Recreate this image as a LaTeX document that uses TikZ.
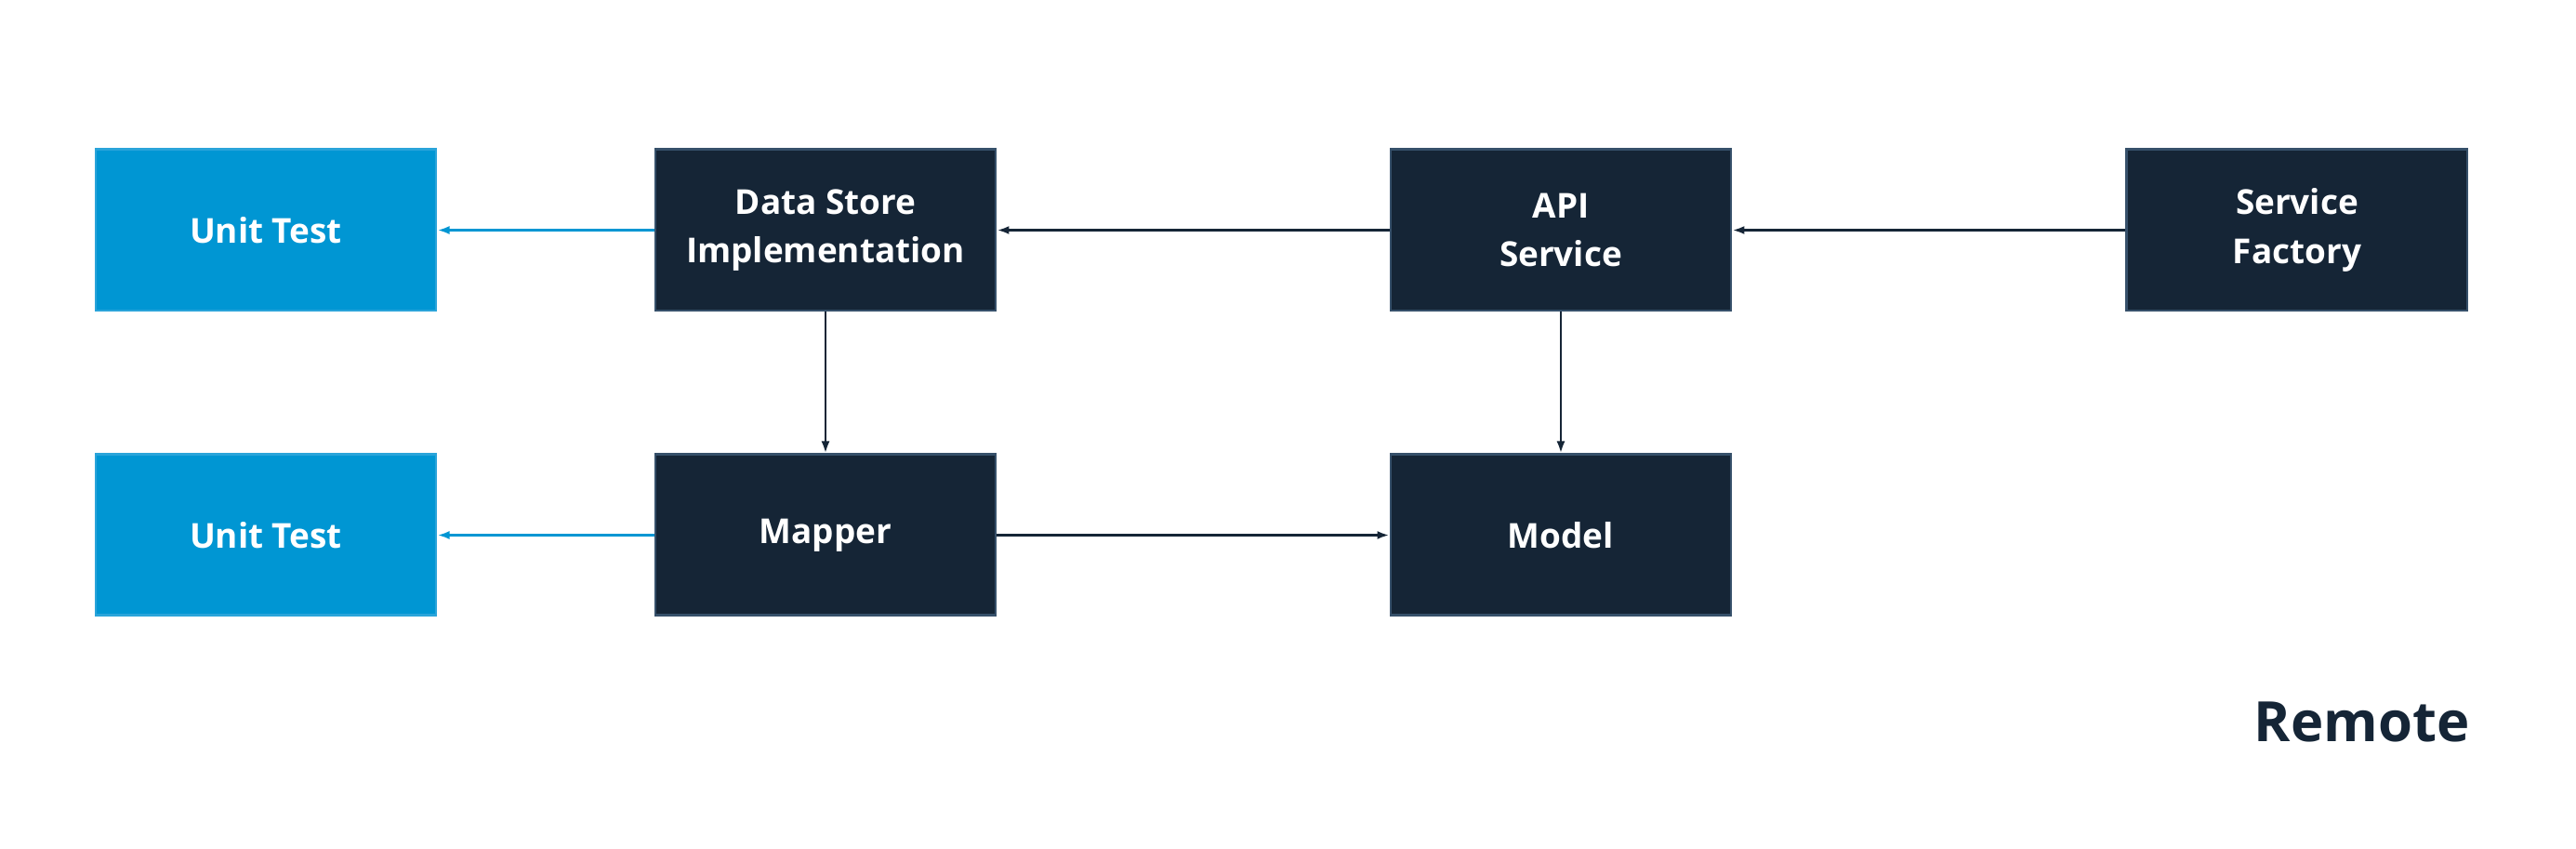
\documentclass[tikz,border=0pt]{standalone}
\usepackage{fontspec}
\setmainfont{Open Sans}
\usetikzlibrary{positioning,arrows.meta}
\definecolor{navy}{HTML}{152536}
\definecolor{navyline}{HTML}{36506A}
\definecolor{testblue}{HTML}{0096D3}
\definecolor{testline}{HTML}{2AA4DA}

\begin{document}
\begin{tikzpicture}[node distance=1.52cm and 2.33cm,
  darkbox/.style={draw=navyline, fill=navy, line width=0.85pt, text=white,
    minimum width=3.66cm, minimum height=1.73cm, align=center,
    font=\fontsize{10.5}{15}\selectfont\bfseries},
  testbox/.style={darkbox, draw=testline, fill=testblue},
  link/.style={-{Latex[length=0.13cm,width=0.09cm]}, line width=0.85pt, draw=navy},
  testlink/.style={link, draw=testblue}]
\useasboundingbox (0,0) rectangle (27.71,-9.13);
\node[testbox] (T1) at (2.86,-2.475) {Unit Test};
\node[darkbox] (D) [right=2.33cm of T1] {Data Store\\Implementation};
\node[darkbox] (A) [right=4.22cm of D] {API\\Service};
\node[darkbox] (F) [right=4.23cm of A] {Service\\Factory};
\node[testbox] (T2) [below=1.52cm of T1] {Unit Test};
\node[darkbox] (M) [below=1.52cm of D] {Mapper};
\node[darkbox] (O) [below=1.52cm of A] {Model};
\node[anchor=base east, inner sep=0pt, text=navy, font=\fontsize{17}{20}\selectfont\bfseries] (R) at (26.57,-7.98) {Remote};

\draw[testlink] (D) -- (T1);
\draw[testlink] (M) -- (T2);
\draw[link] (A) -- (D);
\draw[link] (F) -- (A);
\draw[link] (D) -- (M);
\draw[link] (A) -- (O);
\draw[link] (M) -- (O);
\end{tikzpicture}
\end{document}
